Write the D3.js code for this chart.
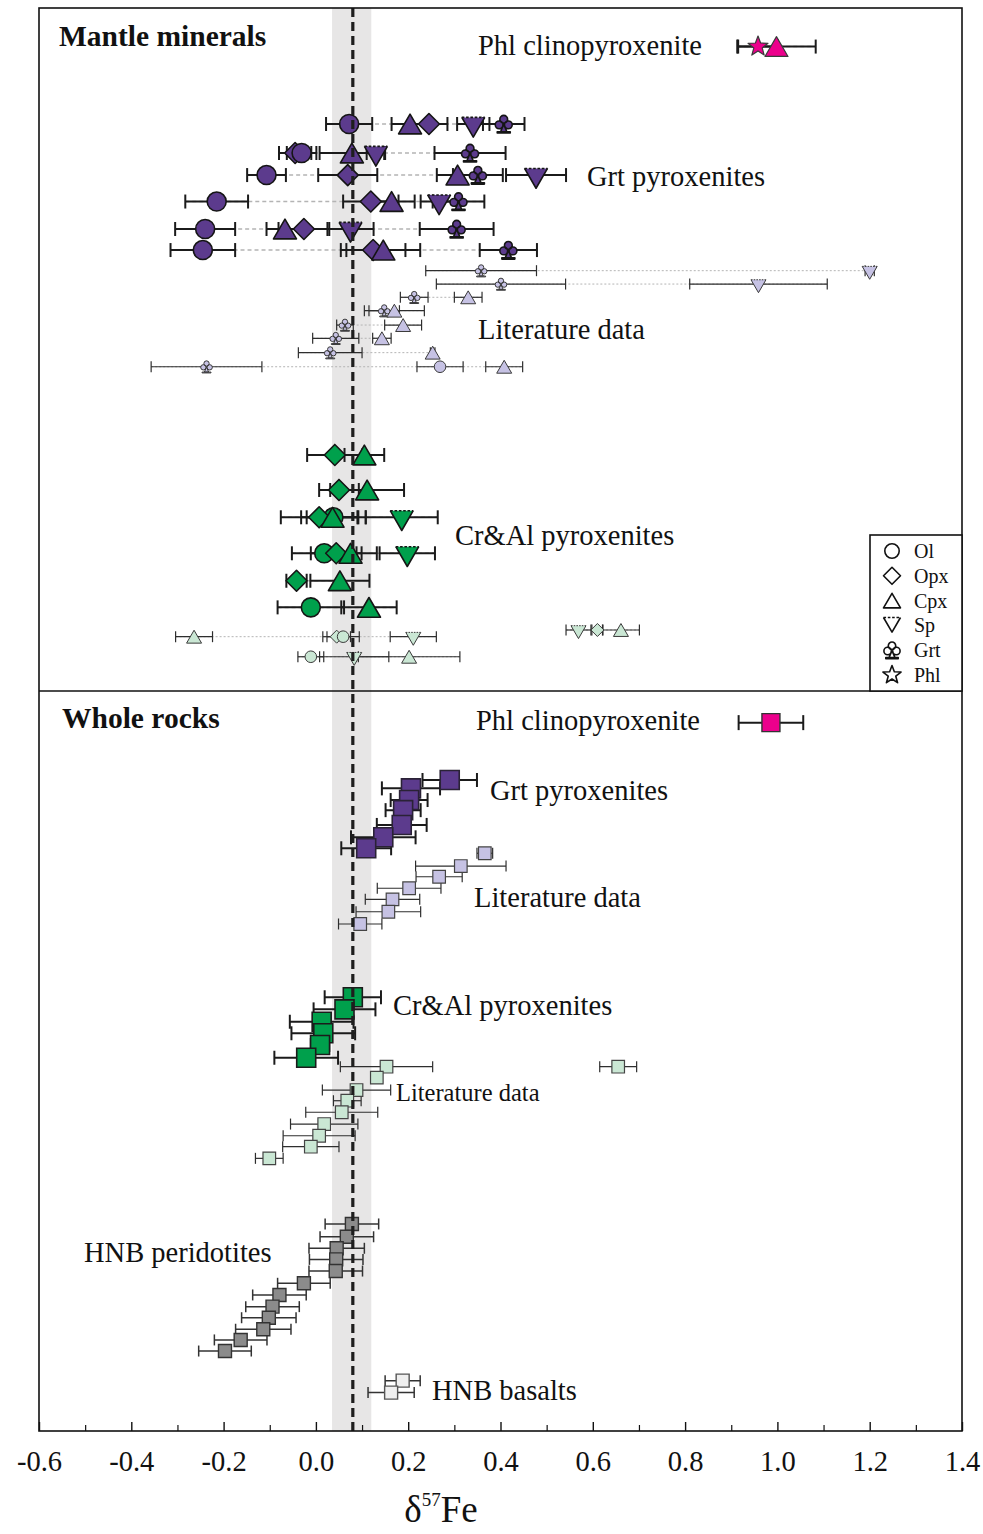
<!DOCTYPE html>
<html>
<head>
<meta charset="utf-8">
<script src="https://cdn.jsdelivr.net/npm/d3@7"></script>
<style>
  body { margin: 0; background: #fff; }
  svg { display: block; }
  text { font-family: "Liberation Serif", "Times New Roman", serif; fill: #111; }
</style>
</head>
<body>
<svg id="chart" width="983" height="1534"></svg>
<script>
// ---------------------------------------------------------------
// δ57Fe of mantle minerals and whole rocks.
// Rows: [sample order, mineral, δ57Fe (‰), 2SD]
// Sample order runs top → bottom on an unlabelled index axis.
// ---------------------------------------------------------------
const xTicksMajor = [-0.6, -0.4, -0.2, 0.0, 0.2, 0.4, 0.6, 0.8, 1.0, 1.2, 1.4];
const xTicksMinor = [-0.5, -0.3, -0.1, 0.1, 0.3, 0.5, 0.7, 0.9, 1.1, 1.3];
const mantleRef = 0.08;            // mantle reference value
const mantleRange = [0.035, 0.12]; // shaded uncertainty band

const minerals = ["Ol", "Opx", "Cpx", "Sp", "Grt", "Phl"];

// Mantle minerals — Phl clinopyroxenite
const phlMinerals = [
  [2.71, "Phl", 0.958, 0.043],
  [2.71, "Cpx", 0.998, 0.085]
];

// Mantle minerals — Grt pyroxenites (this study)
const grtMinerals = [
  [8.15, "Ol", 0.072, 0.050], [8.15, "Cpx", 0.204, 0.040], [8.15, "Opx", 0.245, 0.040], [8.15, "Sp", 0.341, 0.035], [8.15, "Grt", 0.407, 0.045],
  [10.19, "Opx", -0.045, 0.035], [10.19, "Ol", -0.031, 0.032], [10.19, "Cpx", 0.078, 0.070], [10.19, "Sp", 0.130, 0.020], [10.19, "Grt", 0.334, 0.077],
  [11.74, "Ol", -0.107, 0.042], [11.74, "Opx", 0.069, 0.064], [11.74, "Cpx", 0.307, 0.045], [11.74, "Grt", 0.351, 0.054], [11.74, "Sp", 0.477, 0.065],
  [13.60, "Ol", -0.215, 0.068], [13.60, "Opx", 0.119, 0.060], [13.60, "Cpx", 0.164, 0.050], [13.60, "Sp", 0.267, 0.040], [13.60, "Grt", 0.309, 0.056],
  [15.53, "Ol", -0.240, 0.065], [15.53, "Cpx", -0.067, 0.040], [15.53, "Opx", -0.026, 0.055], [15.53, "Sp", 0.075, 0.050], [15.53, "Grt", 0.305, 0.080],
  [17.01, "Ol", -0.245, 0.070], [17.01, "Opx", 0.124, 0.070], [17.01, "Cpx", 0.146, 0.080], [17.01, "Grt", 0.417, 0.062]
];

// Mantle minerals — Grt pyroxenites, literature data
const grtLitMinerals = [
  [18.46, "Grt", 0.358, 0.120], [18.46, "Sp", 1.200, 0.010],
  [19.40, "Grt", 0.401, 0.140], [19.40, "Sp", 0.959, 0.149],
  [20.33, "Grt", 0.213, 0.030], [20.33, "Cpx", 0.330, 0.030],
  [21.27, "Grt", 0.148, 0.033], [21.27, "Cpx", 0.170, 0.065],
  [22.28, "Grt", 0.063, 0.018], [22.28, "Cpx", 0.189, 0.040],
  [23.21, "Grt", 0.043, 0.050], [23.21, "Cpx", 0.143, 0.020],
  [24.22, "Grt", 0.031, 0.069], [24.22, "Cpx", 0.253, 0.005],
  [25.21, "Grt", -0.237, 0.120], [25.21, "Ol", 0.269, 0.050], [25.21, "Cpx", 0.408, 0.040]
];

// Mantle minerals — Cr & Al pyroxenites (this study)
const cralMinerals = [
  [31.41, "Opx", 0.041, 0.060], [31.41, "Cpx", 0.105, 0.043],
  [33.87, "Opx", 0.050, 0.043], [33.87, "Cpx", 0.111, 0.080],
  [35.79, "Ol", 0.038, 0.070], [35.79, "Opx", 0.007, 0.083], [35.79, "Cpx", 0.036, 0.056], [35.79, "Sp", 0.186, 0.078],
  [38.32, "Ol", 0.018, 0.070], [38.32, "Opx", 0.044, 0.055], [38.32, "Cpx", 0.075, 0.057], [38.32, "Sp", 0.198, 0.060],
  [40.25, "Opx", -0.042, 0.022], [40.25, "Cpx", 0.052, 0.064],
  [42.12, "Ol", -0.011, 0.072], [42.12, "Cpx", 0.115, 0.060]
];

// Mantle minerals — Cr & Al pyroxenites, literature data
const cralLitMinerals = [
  [43.71, "Sp", 0.569, 0.027], [43.71, "Opx", 0.610, 0.012], [43.71, "Cpx", 0.661, 0.040],
  [44.18, "Cpx", -0.264, 0.040], [44.18, "Opx", 0.045, 0.030], [44.18, "Ol", 0.059, 0.035], [44.18, "Sp", 0.211, 0.050],
  [45.59, "Ol", -0.011, 0.028], [45.59, "Sp", 0.083, 0.075], [45.59, "Cpx", 0.202, 0.110]
];

// Whole rocks: [sample order, δ57Fe (‰), 2SD]
const phlWR = [[50.22, 0.986, 0.070]];
const grtWR = [
  [54.25, 0.290, 0.059], [54.84, 0.206, 0.063], [55.66, 0.202, 0.040], [56.37, 0.189, 0.038],
  [57.41, 0.186, 0.054], [58.28, 0.146, 0.070], [59.05, 0.109, 0.054]
];
const grtLitWR = [
  [59.40, 0.366, 0.017], [60.30, 0.314, 0.098], [61.05, 0.267, 0.050], [61.86, 0.202, 0.069],
  [62.64, 0.166, 0.059], [63.51, 0.157, 0.070], [64.37, 0.096, 0.047]
];
const cralWR = [
  [69.52, 0.080, 0.061], [70.37, 0.062, 0.067], [71.24, 0.0125, 0.069],
  [72.05, 0.016, 0.069], [72.87, 0.009, 0.020], [73.77, -0.021, 0.069]
];
const cralLitWR = [
  [74.40, 0.153, 0.100], [74.40, 0.655, 0.040], [75.17, 0.132, 0.000], [76.04, 0.088, 0.074],
  [76.79, 0.068, 0.030], [77.60, 0.056, 0.078], [78.43, 0.018, 0.073], [79.25, 0.007, 0.078],
  [80.02, -0.011, 0.061], [80.84, -0.101, 0.030]
];
const hnbPeridotites = [
  [85.45, 0.078, 0.058], [86.35, 0.067, 0.058], [87.16, 0.045, 0.060], [87.94, 0.044, 0.058],
  [88.76, 0.043, 0.058], [89.62, -0.026, 0.057], [90.44, -0.079, 0.058], [91.26, -0.094, 0.058],
  [92.04, -0.102, 0.059], [92.85, -0.114, 0.060], [93.60, -0.163, 0.057], [94.38, -0.197, 0.057]
];
const hnbBasalts = [[96.46, 0.188, 0.038], [97.30, 0.163, 0.050]];

// ---------------------------------------------------------------
const COL = {
  grt: "#5c3b8d", grtLit: "#c6c2e4",
  cral: "#00a04c", cralLit: "#cae7d4",
  phl: "#ec008c", hnb: "#8b8b8b", basalt: "#efefef"
};

const svg = d3.select("#chart");
const frame = { left: 39, right: 962, top: 8, bottom: 1431 };
const panelSplit = 48.0; // sample-order position of the panel divider

const x = d3.scaleLinear().domain([-0.6, 1.4]).range([frame.left, frame.right]);
const y = d3.scaleLinear().domain([0, 100]).range([frame.top, frame.bottom]);

// Mantle reference band
svg.append("rect")
  .attr("x", x(mantleRange[0])).attr("y", frame.top)
  .attr("width", x(mantleRange[1]) - x(mantleRange[0]))
  .attr("height", frame.bottom - frame.top)
  .attr("fill", "#e7e6e6");

// ---------- marker shapes ----------
function circlePath(r) {
  return `M${r},0A${r},${r} 0 1,1 ${-r},0A${r},${r} 0 1,1 ${r},0Z`;
}
function shapePath(type, s) {
  switch (type) {
    case "Ol": return circlePath(s);
    case "Opx": return `M0,${-s}L${s},0L0,${s}L${-s},0Z`;
    case "Cpx": { const h = s * 1.72; return `M0,${-h / 2}L${s},${h / 2}L${-s},${h / 2}Z`; }
    case "Sp": { const h = s * 1.72; return `M${-s},${-h / 3}L${s},${-h / 3}L0,${2 * h / 3}Z`; }
    case "Grt": {
      const r = 0.37 * s;
      const c = (cx, cy) => `M${cx + r},${cy}A${r},${r} 0 1,1 ${cx - r},${cy}A${r},${r} 0 1,1 ${cx + r},${cy}Z`;
      return c(0, -0.45 * s) + c(-0.44 * s, 0.08 * s) + c(0.44 * s, 0.08 * s) +
        `M0,${0.05 * s}L${0.3 * s},${0.74 * s}L${-0.3 * s},${0.74 * s}Z` +
        `M${-0.62 * s},${0.74 * s}L${0.62 * s},${0.74 * s}L${0.62 * s},${0.86 * s}L${-0.62 * s},${0.86 * s}Z`;
    }
    case "Phl": {
      let p = "";
      for (let i = 0; i < 10; i++) {
        const rr = i % 2 === 0 ? s : s * 0.42;
        const a = -Math.PI / 2 + i * Math.PI / 5;
        p += (i === 0 ? "M" : "L") + (rr * Math.cos(a)).toFixed(2) + "," + (rr * Math.sin(a)).toFixed(2);
      }
      return p + "Z";
    }
    case "Sq": return `M${-s},${-s}L${s},${-s}L${s},${s}L${-s},${s}Z`;
  }
}

// Spinel triangles are drawn with a dashed upper edge
function drawMarker(g, type, s, fill, stroke, sw) {
  if (type === "Sp") {
    const h = s * 1.72;
    g.append("path").attr("d", shapePath("Sp", s)).attr("fill", fill).attr("stroke", "none");
    g.append("path").attr("d", `M${s},${-h / 3}L0,${2 * h / 3}L${-s},${-h / 3}`)
      .attr("fill", "none").attr("stroke", stroke).attr("stroke-width", sw).attr("stroke-linejoin", "round");
    g.append("path").attr("d", `M${-s},${-h / 3}L${s},${-h / 3}`)
      .attr("fill", "none").attr("stroke", stroke).attr("stroke-width", sw)
      .attr("stroke-dasharray", `${sw * 1.6},${sw * 1.1}`);
  } else {
    g.append("path").attr("d", shapePath(type, s))
      .attr("fill", fill).attr("stroke", stroke).attr("stroke-width", sw)
      .attr("stroke-linejoin", "round");
  }
}

const SIZE_MAIN = { Ol: 9.5, Opx: 10.5, Cpx: 11.5, Sp: 11.5, Grt: 10.5, Phl: 10.5 };
const SIZE_LIT = { Ol: 5.8, Opx: 6.5, Cpx: 7.5, Sp: 7.5, Grt: 7.2, Phl: 6.5 };
const SIZE_LEG = { Ol: 7.2, Opx: 8.5, Cpx: 8.5, Sp: 8.5, Grt: 10, Phl: 9.5 };

// ---------- mineral groups ----------
function drawMineralGroup(data, opt) {
  const g = svg.append("g");
  // dotted link across each sample row
  const rows = d3.groups(data, d => d[0]);
  g.selectAll("line.link").data(rows).join("line")
    .attr("x1", r => x(d3.min(r[1], d => d[2] - d[3])))
    .attr("x2", r => x(d3.max(r[1], d => d[2] + d[3])))
    .attr("y1", r => y(r[0])).attr("y2", r => y(r[0]))
    .attr("stroke", "#b4b4b4").attr("stroke-width", opt.linkWidth)
    .attr("stroke-dasharray", opt.linkDash);
  // 2SD error bars
  const eb = g.selectAll("g.err").data(data.filter(d => d[3] > 0)).join("g")
    .attr("transform", d => `translate(0,${y(d[0])})`);
  eb.append("line").attr("x1", d => x(d[2] - d[3])).attr("x2", d => x(d[2] + d[3]))
    .attr("stroke", opt.errColor).attr("stroke-width", opt.errWidth);
  eb.append("line").attr("x1", d => x(d[2] - d[3])).attr("x2", d => x(d[2] - d[3]))
    .attr("y1", -opt.cap).attr("y2", opt.cap).attr("stroke", opt.errColor).attr("stroke-width", opt.errWidth);
  eb.append("line").attr("x1", d => x(d[2] + d[3])).attr("x2", d => x(d[2] + d[3]))
    .attr("y1", -opt.cap).attr("y2", opt.cap).attr("stroke", opt.errColor).attr("stroke-width", opt.errWidth);
  // markers
  g.selectAll("g.mk").data(data).join("g")
    .attr("transform", d => `translate(${x(d[2])},${y(d[0])})`)
    .each(function (d) {
      drawMarker(d3.select(this), d[1], opt.size[d[1]], opt.fill, opt.stroke, opt.strokeWidth);
    });
}

const mainStyle = { linkWidth: 1.6, linkDash: "4,3", errColor: "#1b1b1b", errWidth: 2, cap: 7,
  size: SIZE_MAIN, stroke: "#151515", strokeWidth: 1.6 };
const litStyle = { linkWidth: 1, linkDash: "2,2", errColor: "#2e2e2e", errWidth: 1.2, cap: 5.5,
  size: SIZE_LIT, stroke: "#3a3a3a", strokeWidth: 1 };

// ---------- whole-rock groups ----------
function drawWRGroup(data, opt) {
  const g = svg.append("g");
  const eb = g.selectAll("g.err").data(data.filter(d => d[2] > 0)).join("g")
    .attr("transform", d => `translate(0,${y(d[0])})`);
  eb.append("line").attr("x1", d => x(d[1] - d[2])).attr("x2", d => x(d[1] + d[2]))
    .attr("stroke", opt.errColor).attr("stroke-width", opt.errWidth);
  [-1, 1].forEach(sgn => {
    eb.append("line").attr("x1", d => x(d[1] + sgn * d[2])).attr("x2", d => x(d[1] + sgn * d[2]))
      .attr("y1", -opt.cap).attr("y2", opt.cap).attr("stroke", opt.errColor).attr("stroke-width", opt.errWidth);
  });
  g.selectAll("path.sq").data(data).join("path")
    .attr("transform", d => `translate(${x(d[1])},${y(d[0])})`)
    .attr("d", shapePath("Sq", opt.half))
    .attr("fill", opt.fill).attr("stroke", opt.stroke).attr("stroke-width", opt.strokeWidth);
}

// ---------- draw data ----------
drawMineralGroup(grtLitMinerals, { ...litStyle, fill: COL.grtLit });
drawMineralGroup(cralLitMinerals, { ...litStyle, fill: COL.cralLit });
drawMineralGroup(grtMinerals, { ...mainStyle, fill: COL.grt });
drawMineralGroup(cralMinerals, { ...mainStyle, fill: COL.cral });
drawMineralGroup(phlMinerals, { ...mainStyle, fill: COL.phl, stroke: "#3a3a3a", strokeWidth: 1.2 });

drawWRGroup(grtLitWR, { fill: COL.grtLit, stroke: "#444", strokeWidth: 1.2, half: 6.3, errColor: "#2e2e2e", errWidth: 1.2, cap: 5.5 });
drawWRGroup(grtWR, { fill: COL.grt, stroke: "#2a2236", strokeWidth: 1.6, half: 9.5, errColor: "#1b1b1b", errWidth: 2, cap: 7 });
drawWRGroup(cralLitWR, { fill: COL.cralLit, stroke: "#444", strokeWidth: 1.2, half: 6.3, errColor: "#2e2e2e", errWidth: 1.2, cap: 5.5 });
drawWRGroup(cralWR, { fill: COL.cral, stroke: "#1b1b1b", strokeWidth: 1.6, half: 9.5, errColor: "#1b1b1b", errWidth: 2, cap: 7 });
drawWRGroup(phlWR, { fill: COL.phl, stroke: "#333", strokeWidth: 1.4, half: 9, errColor: "#1b1b1b", errWidth: 2, cap: 7.5 });
drawWRGroup(hnbPeridotites, { fill: COL.hnb, stroke: "#333", strokeWidth: 1.4, half: 6.5, errColor: "#333", errWidth: 1.5, cap: 5.5 });
drawWRGroup(hnbBasalts, { fill: COL.basalt, stroke: "#555", strokeWidth: 1.4, half: 6.5, errColor: "#333", errWidth: 1.5, cap: 5.5 });

// Mantle reference line (over the data)
svg.append("line")
  .attr("x1", x(mantleRef)).attr("x2", x(mantleRef))
  .attr("y1", frame.top).attr("y2", frame.bottom)
  .attr("stroke", "#1e1e1e").attr("stroke-width", 3.2).attr("stroke-dasharray", "9,5");

// ---------- frame & panel divider ----------
svg.append("rect")
  .attr("x", frame.left).attr("y", frame.top)
  .attr("width", frame.right - frame.left).attr("height", frame.bottom - frame.top)
  .attr("fill", "none").attr("stroke", "#111").attr("stroke-width", 1.6);
svg.append("line")
  .attr("x1", frame.left).attr("x2", frame.right)
  .attr("y1", y(panelSplit)).attr("y2", y(panelSplit))
  .attr("stroke", "#111").attr("stroke-width", 1.6);

// ---------- x axis ----------
const fmt = v => (v < 0 ? "-" : "") + Math.abs(v).toFixed(1);
const axisG = svg.append("g").attr("transform", `translate(0,${frame.bottom})`)
  .call(d3.axisBottom(x).tickValues(xTicksMajor).tickSize(-9).tickPadding(20).tickFormat(fmt));
axisG.select(".domain").remove();
axisG.selectAll(".tick line").attr("stroke", "#111").attr("stroke-width", 1.4);
axisG.selectAll(".tick text").attr("font-size", 28.5).attr("fill", "#111")
  .style("font-family", '"Liberation Serif", "Times New Roman", serif');
const minorG = svg.append("g").attr("transform", `translate(0,${frame.bottom})`)
  .call(d3.axisBottom(x).tickValues(xTicksMinor).tickSize(-6).tickFormat(""));
minorG.select(".domain").remove();
minorG.selectAll(".tick line").attr("stroke", "#111").attr("stroke-width", 1.2);

const xTitle = svg.append("text").attr("x", 441).attr("y", 1522)
  .attr("text-anchor", "middle").attr("font-size", 37);
xTitle.append("tspan").text("δ");
xTitle.append("tspan").attr("font-size", 19).attr("dy", -16).text("57");
xTitle.append("tspan").attr("dy", 16).text("Fe");

// ---------- annotations ----------
const labels = [
  { t: "Mantle minerals", x: 59, y: 46, bold: true },
  { t: "Phl clinopyroxenite", x: 478, y: 55 },
  { t: "Grt pyroxenites", x: 587, y: 186 },
  { t: "Literature data", x: 478, y: 339 },
  { t: "Cr&Al pyroxenites", x: 455, y: 545 },
  { t: "Whole rocks", x: 62, y: 728, bold: true },
  { t: "Phl clinopyroxenite", x: 476, y: 730 },
  { t: "Grt pyroxenites", x: 490, y: 800 },
  { t: "Literature data", x: 474, y: 907 },
  { t: "Cr&Al pyroxenites", x: 393, y: 1015 },
  { t: "Literature data", x: 396, y: 1101, size: 24.5 },
  { t: "HNB peridotites", x: 84, y: 1262 },
  { t: "HNB basalts", x: 432, y: 1400 }
];
svg.selectAll("text.lab").data(labels).join("text")
  .attr("class", "lab")
  .attr("x", d => d.x).attr("y", d => d.y)
  .attr("font-size", d => d.size || (d.bold ? 29.5 : 28.5))
  .attr("font-weight", d => d.bold ? "bold" : "normal")
  .text(d => d.t);

// ---------- legend ----------
const leg = svg.append("g");
leg.append("rect").attr("x", 870).attr("y", 535).attr("width", frame.right - 870)
  .attr("height", y(panelSplit) - 535).attr("fill", "#fff").attr("stroke", "#111").attr("stroke-width", 1.6);
const legY = d3.scalePoint().domain(minerals).range([551, 675]);
const li = leg.selectAll("g.li").data(minerals).join("g")
  .attr("transform", d => `translate(892,${legY(d)})`);
li.each(function (d) {
  const s = SIZE_LEG[d];
  const g = d3.select(this).append("g")
    .attr("transform", d === "Sp" ? "translate(0,-3)" : "translate(0,0)");
  drawMarker(g, d, s, "#fff", "#111", 1.6);
});
li.append("text").attr("x", 22).attr("y", 7).attr("font-size", 20).text(d => d);
</script>
</body>
</html>
